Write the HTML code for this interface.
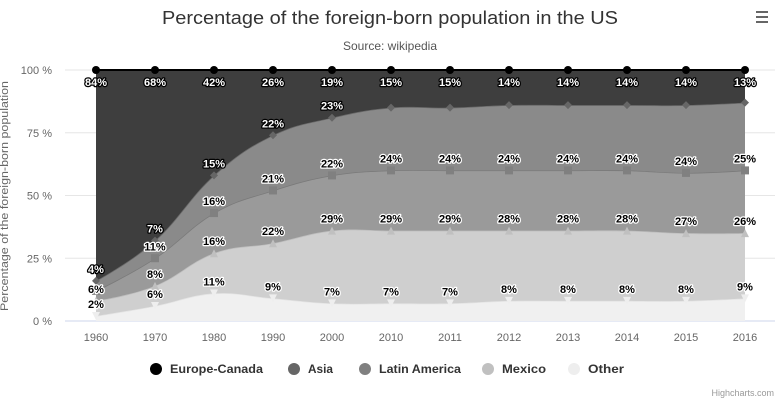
<!DOCTYPE html>
<html><head><meta charset="utf-8"><style>
html,body{margin:0;padding:0;background:#fff;}
svg{display:block;font-family:"Liberation Sans Narrow","Liberation Sans",sans-serif;}
.lbl{font-size:11px;font-weight:bold;paint-order:stroke;stroke-width:2.5px;stroke-linejoin:round;}
</style></head><body>
<svg id="chart" width="780" height="403" viewBox="0 0 780 403">
<text x="390" y="24" text-anchor="middle" font-size="18" fill="#333" textLength="456" lengthAdjust="spacingAndGlyphs">Percentage of the foreign-born population in the US</text>
<text x="390" y="50" text-anchor="middle" font-size="12" fill="#555">Source: wikipedia</text>
<g><rect x="756" y="11" width="12" height="2" fill="#666"/><rect x="756" y="16" width="12" height="2" fill="#666"/><rect x="756" y="21" width="12" height="2" fill="#666"/></g>
<text transform="translate(8,196) rotate(-90)" text-anchor="middle" font-size="11" fill="#666" textLength="230" lengthAdjust="spacingAndGlyphs">Percentage of the foreign-born population</text>
<g id="grid"></g><g id="areas"></g><g id="marks"></g><g id="labels"></g><g id="xaxis"></g>
<g id="legend"></g>
<text x="774" y="396" text-anchor="end" font-size="9" fill="#999">Highcharts.com</text>
</svg>
<script>
const categories=["1960","1970","1980","1990","2000","2010","2011","2012","2013","2014","2015","2016"];
const seriesNames=["Europe-Canada","Asia","Latin America","Mexico","Other"];
const europe=[84,68,42,26,19,15,15,14,14,14,14,13];
const asia=[4,7,15,22,23,25,25,26,26,26,27,27];
const latinAmerica=[4,11,16,21,22,24,24,24,24,24,24,25];
const mexico=[6,8,16,22,29,29,29,28,28,28,27,26];
const other=[2,6,11,9,7,7,7,8,8,8,8,9];
const yTicks=[0,25,50,75,100];
const NS="http://www.w3.org/2000/svg";
const svg=document.getElementById('chart');
const x0=96,x1=745,yBot=321,yTop=70;
const xAt=i=>x0+i*(x1-x0)/(categories.length-1);
const yAt=v=>yBot-v*(yBot-yTop)/100;
function mk(tag,attrs,parent){const e=document.createElementNS(NS,tag);for(const k in attrs)e.setAttribute(k,attrs[k]);parent.appendChild(e);return e;}
const grid=document.getElementById('grid');
yTicks.forEach(t=>{
 const l=mk('line',{x1:65,x2:775,y1:yAt(t),y2:yAt(t),stroke:t===0?'#ccd6eb':'#e6e6e6','stroke-width':1},grid);
 
 
 const tx=mk('text',{x:52,y:yAt(t)+4,'text-anchor':'end','font-size':11,fill:'#666'},grid);
 tx.textContent=t+' %';
 
 
});
const xa=document.getElementById('xaxis');
categories.forEach((c,i)=>{
 const tx=mk('text',{x:xAt(i),y:341,'text-anchor':'middle','font-size':11,fill:'#666'},xa);
 tx.textContent=c;
 
 
});
const bottomUp=[other,mexico,latinAmerica,asia,europe];
const fills=["#f0f0f0","#cfcfcf","#9a9a9a","#8a8a8a","#3e3e3e"];
const lines=["#e4e4e4","#bdbdbd","#7a7a7a","#6a6a6a","#000"];
const markCol=["#eeeeee","#c0c0c0","#808080","#666666","#000"];
const names=["Other","Mexico","Latin America","Asia","Europe-Canada"];
const cum=[];let run=categories.map(()=>0);
bottomUp.forEach(s=>{run=run.map((r,i)=>r+s[i]);cum.push(run.slice());});
function pts(arr){return arr.map((v,i)=>[xAt(i),yAt(v)]);}
function spline(p){
 const sm=1.5,den=2.5;const L=[],R=[];
 for(let i=0;i<p.length;i++){
  const [x,y]=p[i];
  if(i===0||i===p.length-1){L.push([x,y]);R.push([x,y]);continue;}
  const pr=p[i-1],nx=p[i+1];
  let lx=(sm*x+pr[0])/den,ly=(sm*y+pr[1])/den,rx=(sm*x+nx[0])/den,ry=(sm*y+nx[1])/den;
  const corr=((ry-ly)*(rx-x))/(rx-lx)+y-ry;ly+=corr;ry+=corr;
  L.push([lx,ly]);R.push([rx,ry]);
 }
 let d='';
 for(let i=1;i<p.length;i++)d+=` C${R[i-1][0]},${R[i-1][1]} ${L[i][0]},${L[i][1]} ${p[i][0]},${p[i][1]}`;
 return d;
}
const areas=document.getElementById('areas');
const zero=categories.map(()=>0);
cum.forEach((top,s)=>{
 const bot=s===0?zero:cum[s-1];
 const tp=pts(top),bp=pts(bot).reverse();
 const d=`M${tp[0][0]},${tp[0][1]}`+spline(tp)+` L${bp[0][0]},${bp[0][1]}`+spline(bp)+'Z';
 const a=mk('path',{d:d,fill:fills[s]},areas);
 
 
 const ln=mk('path',{d:`M${tp[0][0]},${tp[0][1]}`+spline(tp),fill:'none',stroke:lines[s],'stroke-width':s===4?2:1.5},areas);
 
 
});
const marks=document.getElementById('marks');
cum.forEach((top,s)=>{
 top.forEach((v,i)=>{
  const x=xAt(i),y=yAt(v);let m;
  if(s===4)m=mk('circle',{cx:x,cy:y,r:4,fill:markCol[s]},marks);
  else if(s===3)m=mk('path',{d:`M${x},${y-4}L${x+4},${y}L${x},${y+4}L${x-4},${y}Z`,fill:markCol[s]},marks);
  else if(s===2)m=mk('rect',{x:x-4,y:y-4,width:8,height:8,fill:markCol[s]},marks);
  else if(s===1)m=mk('path',{d:`M${x},${y-4}L${x+4},${y+4}L${x-4},${y+4}Z`,fill:markCol[s]},marks);
  else m=mk('path',{d:`M${x-4},${y-4}L${x+4},${y-4}L${x},${y+4}Z`,fill:markCol[s]},marks);
  
  
 });
});
const labels=document.getElementById('labels');
categories.forEach((c,i)=>{
 let lastY=null;
 for(let s=4;s>=0;s--){
  const v=bottomUp[s][i];const py=yAt(cum[s][i]);
  let ly=s===4?py+16:py-8;
  if(lastY!==null&&Math.abs(ly-lastY)<15)continue;
  lastY=ly;
  const dark=s>=3;
  const t=mk('text',{x:xAt(i),y:ly,'text-anchor':'middle',class:'lbl',fill:dark?'#fff':'#000',stroke:dark?'#000':'#fff'},labels);
  t.textContent=v+'%';
  
  
 }
});
const lg=document.getElementById('legend');
const legX=[156,294,365,488,574];
const legW=[93,25,82,44,36];
seriesNames.forEach((n,k)=>{
 const s=4-k;
 const g=mk('g',{},lg);
 
 
 mk('circle',{cx:legX[k],cy:369,r:6,fill:markCol[s]},g);
 const t=mk('text',{x:legX[k]+14,y:373,'font-size':12,'font-weight':'bold',fill:'#333',textLength:legW[k],lengthAdjust:'spacingAndGlyphs'},g);
 t.textContent=n;
});
</script>
</body></html>
